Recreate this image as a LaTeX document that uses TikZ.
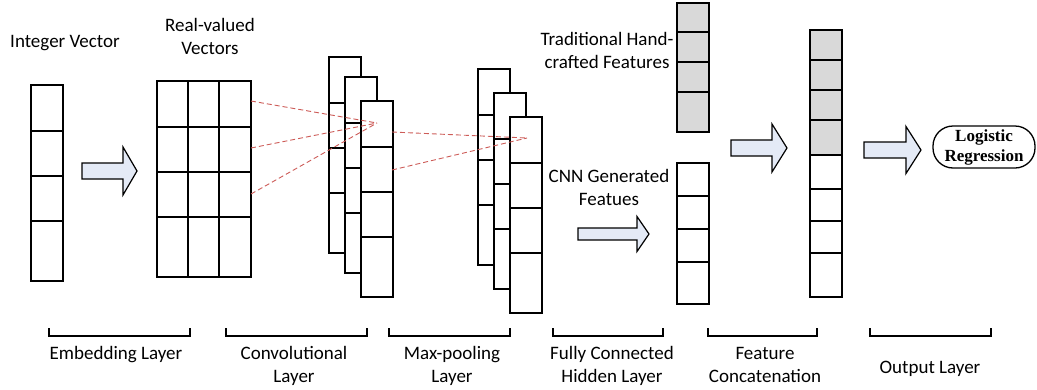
\documentclass[tikz,border=0pt]{standalone}
\usepackage{fontspec}
\setmainfont{Carlito}
\newfontfamily\lrfont{Liberation Serif}
\usetikzlibrary{positioning}

\definecolor{arrowfill}{RGB}{228,234,246}
\definecolor{featgray}{RGB}{217,217,217}
\definecolor{linkred}{RGB}{205,92,88}

\def\colW{32}
\def\colH{196}

\tikzset{
    cell/.style={line width=1.5pt, line join=miter},
    blockarrow/.style={line width=1.2pt, fill=arrowfill, line join=miter},
    link/.style={linkred, line width=0.9pt, dash pattern=on 5pt off 3pt},
    brace/.style={line width=1.3pt},
    lbl/.style={font=\fontsize{19}{23}\selectfont, align=center, inner sep=0pt, anchor=base},
}

% column of four cells (last one taller)
\newcommand{\cnnColumn}[3]{%
    \draw[cell, fill=#3] (#1,#2) rectangle ++(\colW,\colH);
    \foreach \dy in {46,91,136} {
        \draw[cell] (#1,#2) ++(0,\dy) -- ++(\colW,0);
    }
}
% feature column: x, top, bottom, breaks, fill
\newcommand{\featColumn}[5]{%
    \draw[cell, fill=#5] (#1,#2) rectangle (#1+\colW,#3);
    \foreach \yy in {#4} {
        \draw[cell] (#1,\yy) -- ++(\colW,0);
    }
}
% block arrow: tail x, mid y, length, shaft half, head half, head length
\newcommand{\blockArrow}[6]{%
    \draw[blockarrow] (#1,#2) ++(0,-#4)
    -- ++({#3-#6},0)
    -- ++(0,{#4-#5})
    -- ++(#6,#5)
    -- ++(-#6,#5)
    -- ++(0,{#4-#5})
    -- ++({-(#3-#6)},0)
    -- cycle;
}
% bracket under a layer
\newcommand{\layerBrace}[2]{%
    \draw[brace] (#1,328) -- (#1,336) -- (#2,336) -- (#2,328);
}

\begin{document}
\begin{tikzpicture}[x=1pt, y=-1pt]
    \useasboundingbox (0,0) rectangle (1037,389);

    %% input and embedding
    \cnnColumn{31}{85}{white}
    \blockArrow{82}{171}{55}{8}{24}{14}
    \draw[cell] (157,81) rectangle (251,277);
    \foreach \xx in {188,219} {
        \draw[cell] (\xx,81) -- (\xx,277);
    }
    \foreach \yy in {127,172,217} {
        \draw[cell] (157,\yy) -- (251,\yy);
    }
    \node[lbl] (intlbl) at (65,47) {Integer Vector};
    \node[lbl] (reallbl) at (210,54) {Real-valued\\Vectors};

    %% convolution
    \cnnColumn{329}{57}{white}
    \cnnColumn{345}{77}{white}
    \cnnColumn{361}{101}{white}

    %% max-pooling
    \cnnColumn{478}{69}{white}
    \cnnColumn{494}{93}{white}
    \cnnColumn{510}{117}{white}

    %% hidden layer and features
    \blockArrow{578}{234}{71}{6}{17.5}{12}
    \featColumn{677}{3}{132}{32,62,92}{featgray}
    \featColumn{677}{163}{304}{196,229,262}{white}
    \node[lbl] (tradlbl) at (607,68) {Traditional Hand-\\crafted Features};
    \node[lbl] (cnnlbl) at (609,205) {CNN Generated\\Featues};

    %% concatenation
    \blockArrow{731}{148}{56}{8}{24}{15}
    \fill[featgray] (810,30) rectangle (842,155);
    \featColumn{810}{30}{297}{60,90,120,155,189,221,253}{none}

    %% output
    \blockArrow{864}{150}{57}{8}{23.5}{15}
    \node[draw, line width=1.3pt, rounded corners=20pt, minimum width=102pt,
        minimum height=42pt, align=center, inner sep=0pt,
        font=\lrfont\bfseries\fontsize{17}{20}\selectfont] (logreg) at (984,147)
        {Logistic\\Regression};

    %% dashed links
    \coordinate (convfocus) at (377,123);
    \coordinate (poolfocus) at (527,138);
    \foreach \yy in {101,148,194} {
        \draw[link] (251,\yy) -- (convfocus);
    }
    \foreach \yy in {132,170} {
        \draw[link] (392,\yy) -- (poolfocus);
    }

    %% layer brackets and names
    \layerBrace{49}{190}
    \layerBrace{226}{367}
    \layerBrace{389}{510}
    \layerBrace{553}{663}
    \layerBrace{708}{817}
    \layerBrace{870}{991}
    \node[lbl] (emblbl) at (116,359) {Embedding Layer};
    \node[lbl] (convlbl) at (294,382) {Convolutional\\Layer};
    \node[lbl] (poollbl) at (452,382) {Max-pooling\\Layer};
    \node[lbl] (fclbl) at (612,382) {Fully Connected\\Hidden Layer};
    \node[lbl] (concatlbl) at (765,382) {Feature\\Concatenation};
    \node[lbl] (outlbl) at (930,373) {Output Layer};
\end{tikzpicture}
\end{document}
